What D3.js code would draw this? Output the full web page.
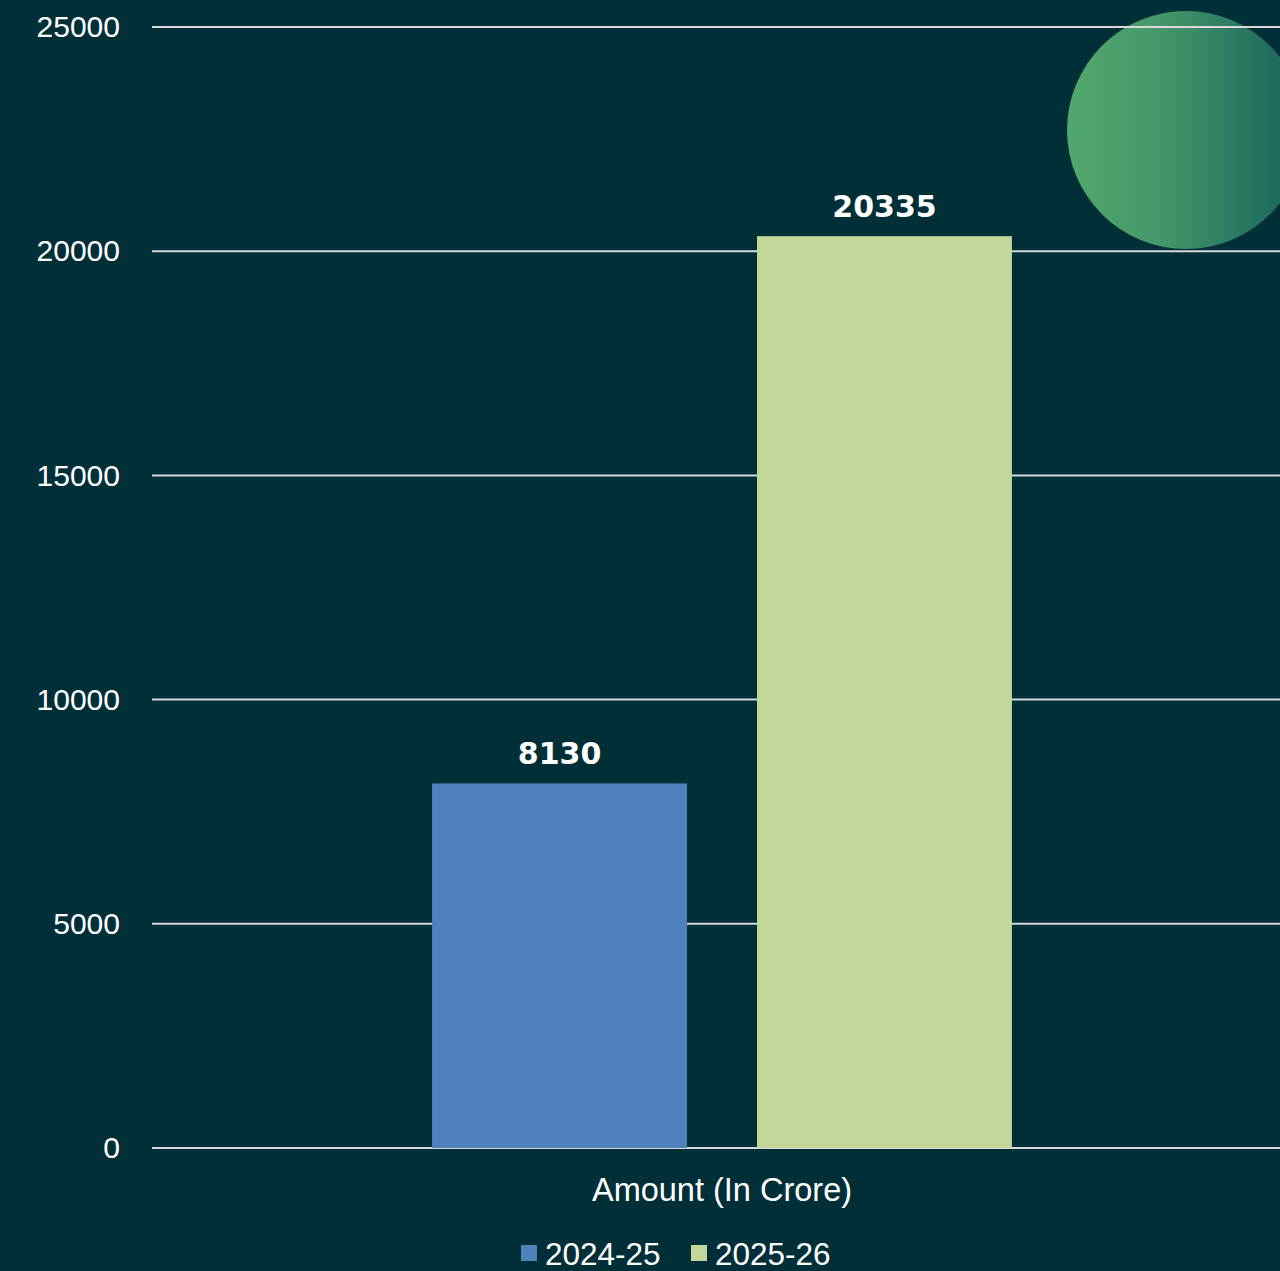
<!DOCTYPE html>
<html>
<head>
<meta charset="utf-8">
<script src="https://cdn.jsdelivr.net/npm/d3@7"></script>
<style>
	html, body { margin: 0; padding: 0; background: #012f38; }
	svg { display: block; }
</style>
</head>
<body>
<div id="chart"></div>
<script>
const categories = ["Amount (In Crore)"];
const seriesNames = ["2024-25", "2025-26"];
const seriesValues = [[8130], [20335]];
const yTicks = [0, 5000, 10000, 15000, 20000, 25000];

drawbar()

function drawbar() {
	const W = 1280, H = 1271;
	const margin = { top: 27, right: -12, bottom: 123, left: 152 };

	const svg = d3.select("#chart")
		.append("svg")
		.attr("width", W)
		.attr("height", H);

	svg.append("rect")
		.attr("width", W)
		.attr("height", H)
		.attr("fill", "#012f38");

	// green ball in the corner
	const defs = svg.append("defs");
	const grad = defs.append("linearGradient")
		.attr("id", "ballgrad")
		.attr("x1", "0%").attr("x2", "100%")
		.attr("y1", "0%").attr("y2", "0%");
	grad.append("stop").attr("offset", "0%").attr("stop-color", "#52a86d");
	grad.append("stop").attr("offset", "40%").attr("stop-color", "#44966a");
	grad.append("stop").attr("offset", "100%").attr("stop-color", "#16605a");
	svg.append("circle")
		.attr("cx", 1186)
		.attr("cy", 130)
		.attr("r", 119)
		.attr("fill", "url(#ballgrad)");

	const data = categories.map((c, ci) => ({
		name: c,
		values: seriesNames.map((s, si) => ({ key: s, value: seriesValues[si][ci] }))
	}));

	const color = d3.scaleOrdinal()
		.domain(seriesNames)
		.range(["#4f81bd", "#c4d79b"]);

	const y = d3.scaleLinear()
		.domain([0, 25000])
		.range([H - margin.bottom, margin.top]);

	const x0 = d3.scaleBand()
		.domain(categories)
		.range([margin.left, W - margin.right])
		.paddingInner(0)
		.paddingOuter(0.483);

	const x1 = d3.scaleBand()
		.domain(seriesNames)
		.range([0, x0.bandwidth()])
		.paddingInner(0.2154)
		.paddingOuter(0);

	// gridlines
	svg.append("g")
		.selectAll("line")
		.data(yTicks)
		.join("line")
		.attr("x1", margin.left)
		.attr("x2", W)
		.attr("y1", d => y(d))
		.attr("y2", d => y(d))
		.attr("stroke", "#d9d9d9")
		.attr("stroke-width", 2);

	// y axis labels
	const yAxis = d3.axisLeft(y)
		.tickValues(yTicks)
		.tickFormat(d3.format("d"))
		.tickSize(0)
		.tickPadding(32);
	const yg = svg.append("g")
		.attr("class", "y-axis")
		.attr("transform", `translate(${margin.left},0)`)
		.call(yAxis);
	yg.select(".domain").remove();
	yg.selectAll(".tick text")
		.attr("fill", "#ffffff")
		.style("font-family", "Liberation Sans, Arial, sans-serif")
		.style("font-size", "30px");

	// bars
	const groups = svg.append("g")
		.selectAll("g")
		.data(data)
		.join("g")
		.attr("transform", d => `translate(${x0(d.name)},0)`);

	groups.selectAll("rect")
		.data(d => d.values)
		.join("rect")
		.attr("x", d => x1(d.key))
		.attr("y", d => y(d.value))
		.attr("width", x1.bandwidth())
		.attr("height", d => y(0) - y(d.value))
		.attr("fill", d => color(d.key));

	groups.selectAll("text")
		.data(d => d.values)
		.join("text")
		.attr("x", d => x1(d.key) + x1.bandwidth() / 2)
		.attr("y", d => y(d.value) - 19)
		.attr("text-anchor", "middle")
		.attr("fill", "#ffffff")
		.style("font-family", "DejaVu Sans, sans-serif")
		.style("font-weight", "bold")
		.style("font-size", "30px")
		.text(d => d.value);

	// x axis category
	const xAxis = d3.axisBottom(x0).tickSize(0).tickPadding(30);
	const xg = svg.append("g")
		.attr("class", "x-axis")
		.attr("transform", `translate(0,${y(0)})`)
		.call(xAxis);
	xg.select(".domain").remove();
	xg.selectAll(".tick text")
		.attr("fill", "#ffffff")
		.style("font-family", "Liberation Sans, Arial, sans-serif")
		.style("font-size", "32.5px");

	// legend
	const legend = svg.append("g")
		.attr("transform", `translate(521,1245)`)
		.selectAll("g")
		.data(seriesNames)
		.join("g")
		.attr("transform", (d, i) => `translate(${i * 170},0)`);
	legend.append("rect")
		.attr("width", 16)
		.attr("height", 16)
		.attr("fill", d => color(d));
	legend.append("text")
		.attr("x", 24)
		.attr("y", 20)
		.attr("fill", "#ffffff")
		.style("font-family", "Liberation Sans, Arial, sans-serif")
		.style("font-size", "31.5px")
		.text(d => d);
}
</script>
</body>
</html>
